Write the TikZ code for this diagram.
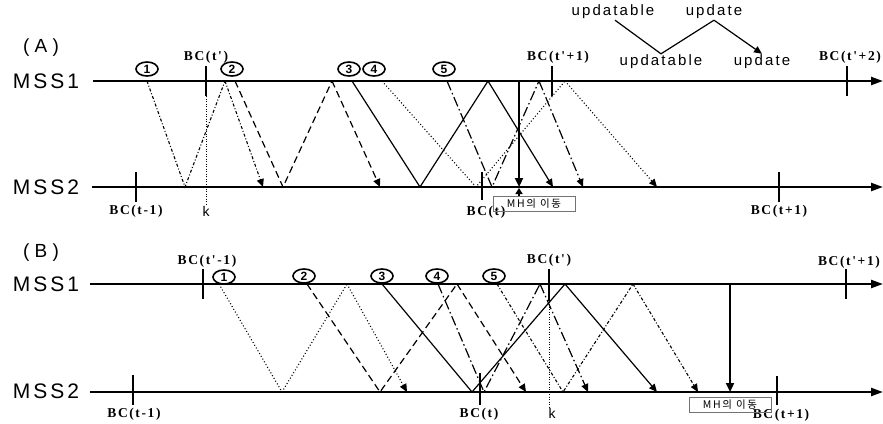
\documentclass[tikz,border=0pt]{standalone}
\usepackage{fontspec}
\setmainfont{Liberation Serif}
\newfontfamily\mssfont[LetterSpace=14]{Liberation Sans}
\newfontfamily\panelfont[LetterSpace=28]{Liberation Sans}
\newfontfamily\bcfont[LetterSpace=12]{Liberation Serif}
\newfontfamily\numfont{Liberation Sans}
\newfontfamily\krfont[LetterSpace=16]{Noto Sans CJK KR}
\usetikzlibrary{arrows.meta,shapes.geometric}

\begin{document}
\begin{tikzpicture}[x=1pt,y=-1pt,
  mssaxis/.style={line width=2.2pt,-{Triangle[length=12pt,width=8pt]}},
  bctick/.style={line width=2.4pt},
  kline/.style={line width=0.9pt,dash pattern=on 1pt off 1.5pt},
  msgtip/.style={-{Triangle[length=8pt,width=7pt]}},
  solidline/.style={line width=1.2pt},
  dotline/.style={line width=1.1pt,dash pattern=on 1pt off 2.2pt},
  dashline/.style={line width=1.2pt,dash pattern=on 7pt off 4pt},
  longline/.style={line width=1.2pt,dash pattern=on 10pt off 3pt on 1.5pt off 3pt},
  fineline/.style={line width=1.1pt,dash pattern=on 3pt off 2pt on 1pt off 2pt},
  mharrow/.style={line width=2.2pt,-{Triangle[length=9pt,width=8pt]}},
  uparrow/.style={line width=2.2pt,-{Triangle[length=6pt,width=7pt]}},
  circnum/.style={draw,ellipse,line width=1.6pt,minimum width=22pt,minimum height=14pt,inner sep=0pt,font=\numfont\bfseries\fontsize{12}{12}\selectfont},
  mss/.style={font=\mssfont\fontsize{21}{22}\selectfont},
  panel/.style={font=\panelfont\fontsize{19}{20}\selectfont},
  bclabel/.style={inner sep=0pt,font=\bcfont\bfseries\fontsize{13.5}{14}\selectfont},
  klabel/.style={inner sep=0pt,font=\numfont\fontsize{14}{14}\selectfont},
  lgd/.style={inner sep=1pt,font=\mssfont\fontsize{15}{16}\selectfont},
  mhbox/.style={draw=black!55,line width=0.7pt,minimum width=82pt,minimum height=15pt,inner sep=0pt,font=\krfont\fontsize{10.5}{11}\selectfont}]
\useasboundingbox (0,0) rectangle (883,423);

% legend
\node[lgd] (uA) at (613,12) {updatable};
\node[lgd] (uB) at (714,12) {update};
\node[lgd] (uC) at (661,62) {updatable};
\node[lgd] (uD) at (762,62) {update};
\draw[solidline] ([xshift=2pt]uA.south) -- (uC.north) -- (uB.south);
\draw[solidline,msgtip] (uB.south) -- (uD.north);

% ---- (A) ----
\node[panel] (pA) at (41,48) {(A)};
\node[mss] (sA1) at (46,81) {MSS1};
\node[mss] (sA2) at (46,187) {MSS2};
\coordinate (lA1s) at (93,81);
\coordinate (lA1e) at (883,81);
\coordinate (lA2s) at (92,187);
\coordinate (lA2e) at (883,187);
\draw[mssaxis] (lA1s) -- (lA1e);
\draw[mssaxis] (lA2s) -- (lA2e);

% broadcast ticks
\coordinate (tA1) at (206,81);
\coordinate (tA2) at (552,81);
\coordinate (tA3) at (847,81);
\coordinate (tA4) at (136,187);
\coordinate (tA5) at (482,187);
\coordinate (tA6) at (779,187);
\draw[bctick] ([yshift=15pt]tA1) -- ([yshift=-15pt]tA1);
\draw[bctick] ([yshift=15pt]tA2) -- ([yshift=-15pt]tA2);
\draw[bctick] ([yshift=15pt]tA3) -- ([yshift=-15pt]tA3);
\draw[bctick] ([yshift=15pt]tA4) -- ([yshift=-15pt]tA4);
\draw[bctick] ([yshift=15pt]tA5) -- ([yshift=-13pt]tA5);
\draw[bctick] ([yshift=15pt]tA6) -- ([yshift=-15pt]tA6);
\node[bclabel] (bA1) at (206,57) {BC(t')};
\node[bclabel] (bA2) at (558,57) {BC(t'+1)};
\node[bclabel] (bA3) at (850,57) {BC(t'+2)};
\node[bclabel] (bA4) at (136,211) {BC(t-1)};
\node[bclabel] (bA5) at (486,212) {BC(t)};
\node[bclabel] (bA6) at (779,211) {BC(t+1)};
\node[klabel] (kA) at (206,211) {k};
\draw[kline] (tA1) -- (tA1 |- kA.north);

% messages
\node[circnum] (nA1) at (147,69) {1};
\node[circnum] (nA2) at (232,69) {2};
\node[circnum] (nA3) at (349,69) {3};
\node[circnum] (nA4) at (374,69) {4};
\node[circnum] (nA5) at (444,69) {5};
\coordinate (A1a) at (147,81);
\coordinate (A1b) at (185,187);
\coordinate (A1c) at (225,81);
\coordinate (A1d) at (263,187);
\coordinate (A2a) at (235,81);
\coordinate (A2b) at (283,187);
\coordinate (A2c) at (332,81);
\coordinate (A2d) at (380,187);
\coordinate (A3a) at (352,81);
\coordinate (A3b) at (420,187);
\coordinate (A3c) at (488,81);
\coordinate (A3d) at (553,187);
\coordinate (A4a) at (382,81);
\coordinate (A4b) at (476,187);
\coordinate (A4c) at (565,81);
\coordinate (A4d) at (657,187);
\coordinate (A5a) at (447,81);
\coordinate (A5b) at (492,187);
\coordinate (A5c) at (539,81);
\coordinate (A5d) at (583,187);
\draw[fineline] (A1a) -- (A1b) -- (A1c);
\draw[fineline,msgtip] (A1c) -- (A1d);
\draw[dashline] (A2a) -- (A2b) -- (A2c);
\draw[dashline,msgtip] (A2c) -- (A2d);
\draw[solidline] (A3a) -- (A3b) -- (A3c);
\draw[solidline,msgtip] (A3c) -- (A3d);
\draw[dotline] (A4a) -- (A4b) -- (A4c);
\draw[dotline,msgtip] (A4c) -- (A4d);
\draw[longline] (A5a) -- (A5b) -- (A5c);
\draw[longline,msgtip] (A5c) -- (A5d);

% MH move
\coordinate (hA1) at (519,81);
\coordinate (hA2) at (519,187);
\draw[mharrow] (hA1) -- (hA2);
\node[mhbox] (xA) at (534,204) {MH의 이동};
\draw[uparrow] (xA.north -| hA2) -- ([yshift=-1pt]hA2);

% ---- (B) ----
\node[panel] (pB) at (41,253) {(B)};
\node[mss] (sB1) at (46,284) {MSS1};
\node[mss] (sB2) at (46,391) {MSS2};
\coordinate (lB1s) at (90,284);
\coordinate (lB1e) at (883,284);
\coordinate (lB2s) at (90,392);
\coordinate (lB2e) at (883,392);
\draw[mssaxis] (lB1s) -- (lB1e);
\draw[mssaxis] (lB2s) -- (lB2e);

% broadcast ticks
\coordinate (tB1) at (203,284);
\coordinate (tB2) at (549,284);
\coordinate (tB3) at (846,284);
\coordinate (tB4) at (133,392);
\coordinate (tB5) at (480,392);
\coordinate (tB6) at (777,392);
\draw[bctick] ([yshift=15pt]tB1) -- ([yshift=-15pt]tB1);
\draw[bctick] ([yshift=15pt]tB2) -- ([yshift=-17pt]tB2);
\draw[bctick] ([yshift=15pt]tB3) -- ([yshift=-15pt]tB3);
\draw[bctick] ([yshift=17pt]tB4) -- ([yshift=-13pt]tB4);
\draw[bctick] ([yshift=19pt]tB5) -- ([yshift=-13pt]tB5);
\draw[bctick] ([yshift=16pt]tB6) -- ([yshift=-13pt]tB6);
\node[bclabel] (bB1) at (207,261) {BC(t'-1)};
\node[bclabel] (bB2) at (549,260) {BC(t')};
\node[bclabel] (bB3) at (849,262) {BC(t'+1)};
\node[bclabel] (bB4) at (134,414) {BC(t-1)};
\node[bclabel] (bB5) at (479,414) {BC(t)};
\node[bclabel] (bB6) at (781,415) {BC(t+1)};
\node[klabel] (kB) at (552,413) {k};
\draw[kline] (tB2) -- (tB2 |- kB.north);

% messages
\node[circnum] (nB1) at (224,277) {1};
\node[circnum] (nB2) at (304,276) {2};
\node[circnum] (nB3) at (382,276) {3};
\node[circnum] (nB4) at (437,276) {4};
\node[circnum] (nB5) at (494,276) {5};
\coordinate (B1a) at (219,284);
\coordinate (B1b) at (282,392);
\coordinate (B1c) at (347,284);
\coordinate (B1d) at (407,392);
\coordinate (B2a) at (307,284);
\coordinate (B2b) at (380,392);
\coordinate (B2c) at (457,284);
\coordinate (B2d) at (526,392);
\coordinate (B3a) at (382,284);
\coordinate (B3b) at (472,392);
\coordinate (B3c) at (565,284);
\coordinate (B3d) at (657,392);
\coordinate (B4a) at (438,284);
\coordinate (B4b) at (484,392);
\coordinate (B4c) at (540,284);
\coordinate (B4d) at (588,392);
\coordinate (B5a) at (497,284);
\coordinate (B5b) at (563,392);
\coordinate (B5c) at (633,284);
\coordinate (B5d) at (698,392);
\draw[dotline] (B1a) -- (B1b) -- (B1c);
\draw[dotline,msgtip] (B1c) -- (B1d);
\draw[dashline] (B2a) -- (B2b) -- (B2c);
\draw[dashline,msgtip] (B2c) -- (B2d);
\draw[solidline] (B3a) -- (B3b) -- (B3c);
\draw[solidline,msgtip] (B3c) -- (B3d);
\draw[longline] (B4a) -- (B4b) -- (B4c);
\draw[longline,msgtip] (B4c) -- (B4d);
\draw[fineline] (B5a) -- (B5b) -- (B5c);
\draw[fineline,msgtip] (B5c) -- (B5d);

% MH move
\coordinate (hB1) at (730,284);
\coordinate (hB2) at (730,392);
\draw[mharrow] (hB1) -- (hB2);
\node[mhbox] (xB) at (730,405) {MH의 이동};
\end{tikzpicture}
\end{document}
